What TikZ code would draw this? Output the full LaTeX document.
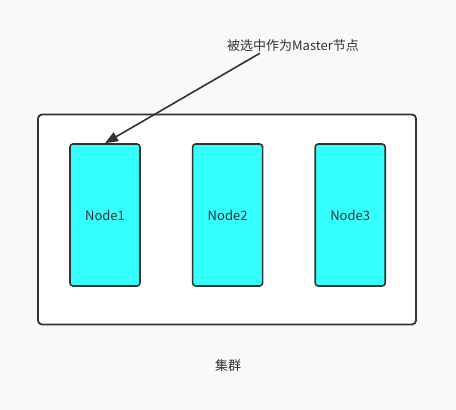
\documentclass[tikz,border=0pt]{standalone}
\usepackage{fontspec}
\setmainfont{Noto Sans CJK SC}
\usetikzlibrary{arrows.meta,positioning}
\definecolor{bgc}{HTML}{F9F9F9}
\definecolor{linec}{HTML}{333333}
\definecolor{nodec}{HTML}{33FFFF}
\tikzset{
  >={Triangle[length=13pt,width=10pt]},
  block/.style={draw=linec,line width=1.6pt,rounded corners=3pt,fill=nodec,
    minimum width=70pt,minimum height=142pt,inner sep=0pt,text=linec,
    font=\fontsize{13}{15}\selectfont},
  arrow/.style={->,line width=1.6pt,draw=linec},
  lbl/.style={text=linec,inner sep=0pt,font=\fontsize{13}{15}\selectfont},
}
\begin{document}
\begin{tikzpicture}[x=1pt,y=1pt]
		\fill[bgc] (0,0) rectangle (456,410);
		\useasboundingbox (0,0) rectangle (456,410);
		\node[draw=linec,line width=1.8pt,rounded corners=4pt,fill=white,
		  minimum width=378pt,minimum height=210pt,inner sep=0pt] (cluster) at (227,190.5) {};
		\node[block] (n1) at (105,195) {Node1};
		\node[block,right=51pt of n1] (n2) {Node2};
		\node[block,right=51pt of n2] (n3) {Node3};
		\node[lbl] (note) at (293,364) {被选中作为Master节点};
		\node[lbl] (name) at (228,44) {集群};
		\draw[arrow] ([xshift=33pt,yshift=-1pt]note.south west) -- (n1.north);
	\end{tikzpicture}
\end{document}
